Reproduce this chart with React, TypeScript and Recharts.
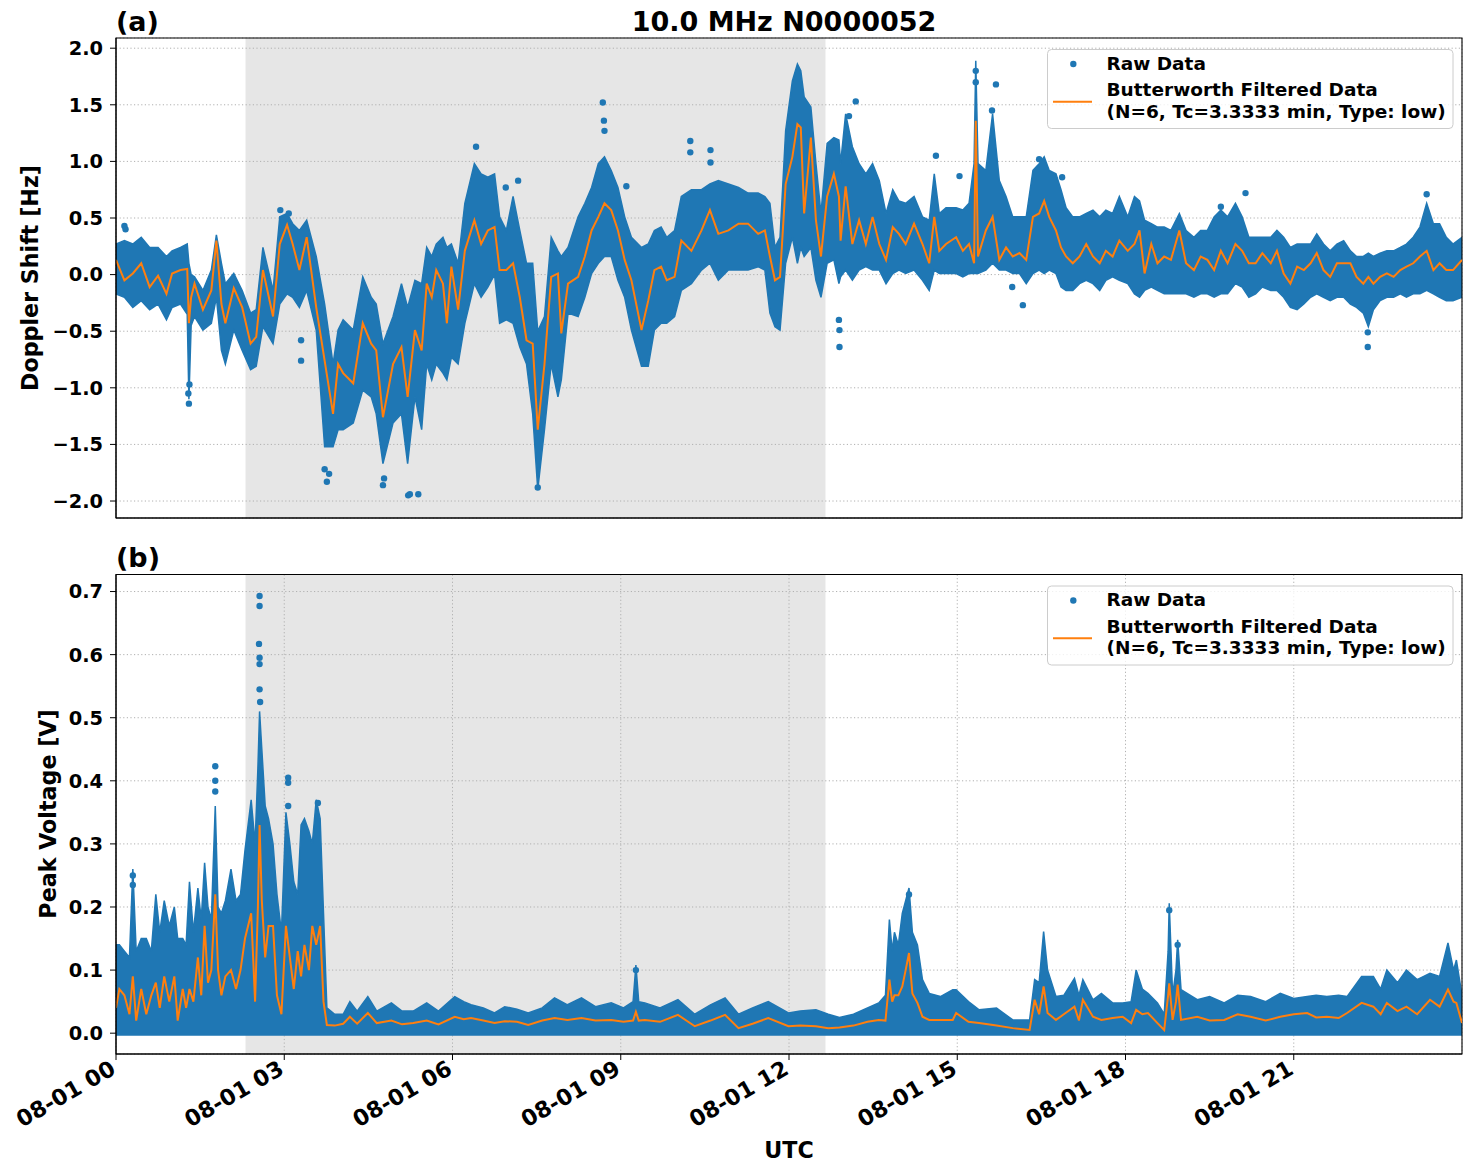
import React from 'react';
import { ComposedChart, Area, Line, Scatter, XAxis, YAxis, CartesianGrid, ReferenceArea } from 'recharts';

const BLUE = '#1f77b4';
const ORANGE = '#ff7f0e';
const FONT = '"DejaVu Sans", Verdana, sans-serif';

// x axis is hours after 08-01 00:00 UTC
const HOUR_TICKS = [0, 3, 6, 9, 12, 15, 18, 21];
const HOUR_LABELS = ['08-01 00', '08-01 03', '08-01 06', '08-01 09', '08-01 12', '08-01 15', '08-01 18', '08-01 21'];
const NIGHT_START = 2.31;
const NIGHT_END = 12.65;

const DOPPLER_TICKS = [-2, -1.5, -1, -0.5, 0, 0.5, 1, 1.5, 2];
const DOPPLER_DOMAIN = [-2.15, 2.09];
const VOLT_TICKS = [0, 0.1, 0.2, 0.3, 0.4, 0.5, 0.6, 0.7];
const VOLT_DOMAIN = [-0.033, 0.727];

// (a) Doppler shift: raw spread (low/high) and filtered trace
const DOP_T = [
  0.00, 0.15, 0.30, 0.45, 0.60, 0.75, 0.90, 1.00, 1.15, 1.27, 1.30, 1.34, 1.40, 1.55, 1.70, 1.79, 1.88, 1.95, 2.10, 2.25,
  2.40, 2.50, 2.62, 2.80, 2.92, 3.05, 3.15, 3.27, 3.40, 3.57, 3.72, 3.87, 3.96, 4.05, 4.23, 4.40, 4.55, 4.64, 4.76, 4.94,
  5.09, 5.20, 5.33, 5.45, 5.54, 5.63, 5.71, 5.83, 5.90, 5.98,
  6.10, 6.22, 6.39, 6.51, 6.63, 6.75, 6.84, 6.96, 7.08, 7.20, 7.32, 7.43, 7.52, 7.64, 7.76, 7.88, 7.94, 8.06, 8.24, 8.36,
  8.48, 8.60, 8.71, 8.83, 8.95, 9.07, 9.19, 9.37, 9.49, 9.60, 9.72, 9.82, 9.96, 10.08, 10.26, 10.44, 10.59, 10.74, 10.92, 11.10,
  11.27, 11.45, 11.57, 11.66, 11.75, 11.84, 11.94,
  12.06, 12.15, 12.21, 12.27, 12.39, 12.48, 12.57, 12.68, 12.80, 12.89, 12.92, 13.01, 13.13, 13.25, 13.37, 13.49, 13.61, 13.73, 13.85, 13.96,
  14.08, 14.23, 14.38, 14.50, 14.59, 14.68, 14.80, 14.98, 15.10, 15.21, 15.30, 15.33, 15.37, 15.51, 15.63, 15.75, 15.87, 15.99, 16.11, 16.23,
  16.35, 16.46, 16.55, 16.64, 16.76, 16.85, 16.94, 17.06, 17.18, 17.30, 17.42, 17.54, 17.65, 17.77, 17.89,
  18.04, 18.16, 18.25, 18.34, 18.46, 18.57, 18.69, 18.81, 18.96, 19.08, 19.22, 19.34, 19.46, 19.58, 19.70, 19.82, 19.96, 20.08, 20.20, 20.32,
  20.44, 20.59, 20.70, 20.82, 20.94, 21.06, 21.18, 21.30, 21.41, 21.53, 21.65, 21.77, 21.89, 22.01, 22.12, 22.24, 22.33, 22.42, 22.54, 22.66,
  22.78, 22.90, 23.01, 23.13, 23.25, 23.37, 23.49, 23.60, 23.72, 23.84, 24.00,
];
const DOP_LOW = [
  -0.17, -0.20, -0.29, -0.23, -0.31, -0.26, -0.40, -0.29, -0.26, -0.35, -1.10, -0.45, -0.37, -0.49, -0.43, -0.20, -0.67, -0.79, -0.49, -0.67,
  -0.84, -0.81, -0.46, -0.61, -0.26, -0.17, -0.20, -0.29, -0.14, -0.49, -1.52, -1.52, -1.37, -1.37, -1.31, -1.02, -1.08, -1.23, -1.67, -1.31,
  -1.23, -1.67, -1.08, -1.37, -0.79, -0.93, -0.79, -0.87, -0.93, -0.73,
  -0.79, -0.43, -0.08, -0.20, -0.11, 0.00, -0.43, -0.40, -0.43, -0.64, -0.79, -1.23, -1.90, -1.37, -0.79, -1.08, -0.93, -0.34, -0.37, -0.20,
  0.01, 0.10, 0.16, 0.16, -0.05, -0.20, -0.49, -0.81, -0.81, -0.49, -0.43, -0.43, -0.37, -0.14, -0.08, 0.04, 0.10, -0.05, 0.04, 0.04,
  0.04, 0.07, 0.04, -0.34, -0.46, -0.49, 0.10,
  0.33, 0.10, 0.24, 0.16, 0.24, -0.05, -0.20, 0.10, 0.13, -0.08, -0.02, 0.04, -0.05, 0.04, 0.07, 0.04, 0.04, -0.08, 0.01, 0.04,
  0.01, 0.04, -0.05, -0.14, 0.04, 0.01, 0.01, 0.01, -0.02, 0.01, 0.01, 0.01, 0.01, 0.04, 0.10, 0.04, 0.04, 0.01, 0.01, -0.08,
  0.01, 0.04, 0.01, 0.04, 0.01, -0.11, -0.14, -0.14, -0.08, -0.05, -0.08, -0.14, -0.05, -0.02, -0.05,
  -0.08, -0.17, -0.20, -0.14, -0.11, -0.14, -0.17, -0.17, -0.17, -0.17, -0.20, -0.17, -0.17, -0.20, -0.17, -0.17, -0.08, -0.11, -0.20, -0.17,
  -0.11, -0.14, -0.14, -0.20, -0.29, -0.31, -0.26, -0.20, -0.17, -0.20, -0.23, -0.20, -0.20, -0.26, -0.29, -0.34, -0.46, -0.31, -0.23, -0.20,
  -0.20, -0.17, -0.20, -0.17, -0.17, -0.14, -0.17, -0.20, -0.23, -0.23, -0.20,
];
const DOP_HIGH = [
  0.27, 0.30, 0.27, 0.33, 0.24, 0.24, 0.16, 0.21, 0.24, 0.27, 0.10, 0.00, -0.02, -0.14, 0.04, 0.35, 0.10, -0.08, 0.01, -0.14,
  -0.34, -0.31, 0.24, -0.14, 0.51, 0.54, 0.45, 0.39, 0.48, 0.16, -0.26, -0.79, -0.49, -0.40, -0.49, -0.02, -0.20, -0.26, -0.61, -0.37,
  -0.08, -0.29, -0.05, -0.08, 0.24, 0.16, 0.27, 0.33, 0.24, 0.27,
  0.10, 0.63, 0.98, 0.89, 0.86, 0.89, 0.51, 0.39, 0.69, 0.39, 0.10, 0.10, -0.50, -0.37, 0.33, 0.21, 0.16, 0.24, 0.51, 0.63,
  0.77, 0.98, 1.04, 0.92, 0.77, 0.51, 0.33, 0.24, 0.27, 0.39, 0.42, 0.33, 0.39, 0.69, 0.75, 0.75, 0.80, 0.83, 0.80, 0.77,
  0.72, 0.72, 0.69, 0.63, 0.24, 0.33, 1.27,
  1.71, 1.86, 1.80, 1.57, 1.48, 0.98, 0.54, 1.16, 1.21, 1.19, 0.98, 1.42, 1.13, 0.98, 0.89, 0.98, 0.83, 0.54, 0.75, 0.65,
  0.63, 0.69, 0.51, 0.48, 0.89, 0.54, 0.59, 0.59, 0.57, 0.63, 0.98, 1.89, 0.98, 0.92, 1.42, 0.83, 0.69, 0.51, 0.51, 0.51,
  0.92, 0.98, 1.04, 0.92, 0.89, 0.75, 0.59, 0.51, 0.51, 0.54, 0.57, 0.51, 0.57, 0.54, 0.69,
  0.51, 0.69, 0.65, 0.48, 0.45, 0.42, 0.42, 0.39, 0.54, 0.39, 0.33, 0.39, 0.39, 0.51, 0.57, 0.51, 0.63, 0.51, 0.33, 0.33,
  0.33, 0.33, 0.39, 0.33, 0.24, 0.27, 0.27, 0.27, 0.36, 0.27, 0.21, 0.27, 0.30, 0.21, 0.16, 0.16, 0.19, 0.16, 0.19, 0.21,
  0.21, 0.24, 0.27, 0.33, 0.42, 0.63, 0.45, 0.45, 0.33, 0.27, 0.33,
];
const DOP_FILT = [
  0.13, -0.05, 0.01, 0.10, -0.11, -0.01, -0.17, 0.01, 0.04, 0.05, -0.43, -0.20, -0.08, -0.31, -0.14, 0.30, -0.26, -0.43, -0.12, -0.29,
  -0.61, -0.55, 0.04, -0.37, 0.27, 0.44, 0.27, 0.04, 0.33, -0.29, -0.76, -1.23, -0.79, -0.87, -0.96, -0.43, -0.61, -0.67, -1.26, -0.79,
  -0.64, -1.08, -0.49, -0.67, -0.08, -0.20, 0.04, -0.08, -0.43, 0.07,
  -0.31, 0.21, 0.48, 0.27, 0.39, 0.42, 0.04, 0.04, 0.10, -0.20, -0.58, -0.61, -1.37, -0.79, -0.02, 0.01, -0.52, -0.08, -0.02, 0.16,
  0.39, 0.51, 0.63, 0.57, 0.39, 0.13, -0.05, -0.49, -0.23, 0.04, 0.07, -0.05, -0.02, 0.30, 0.21, 0.39, 0.57, 0.36, 0.39, 0.45,
  0.45, 0.36, 0.39, 0.16, -0.05, -0.02, 0.80,
  1.04, 1.33, 1.30, 0.54, 1.21, 0.48, 0.16, 0.69, 0.89, 0.69, 0.30, 0.78, 0.27, 0.48, 0.27, 0.51, 0.27, 0.13, 0.42, 0.36,
  0.27, 0.45, 0.27, 0.10, 0.51, 0.21, 0.27, 0.33, 0.21, 0.27, 0.10, 1.36, 0.16, 0.39, 0.51, 0.13, 0.24, 0.16, 0.19, 0.13,
  0.51, 0.54, 0.65, 0.51, 0.39, 0.24, 0.16, 0.10, 0.16, 0.27, 0.16, 0.10, 0.21, 0.16, 0.30,
  0.21, 0.27, 0.39, 0.01, 0.27, 0.10, 0.16, 0.13, 0.39, 0.10, 0.04, 0.16, 0.13, 0.04, 0.21, 0.10, 0.27, 0.21, 0.10, 0.10,
  0.19, 0.10, 0.21, 0.01, -0.08, 0.07, 0.04, 0.10, 0.19, 0.04, -0.02, 0.10, 0.10, 0.10, -0.02, -0.08, -0.02, -0.08, -0.02, 0.01,
  -0.02, 0.04, 0.07, 0.10, 0.16, 0.21, 0.04, 0.10, 0.04, 0.04, 0.13,
];
// isolated raw samples outside the main spread
const DOP_OUT_T = [
  0.15, 0.17, 1.30, 1.29, 1.31, 2.93, 3.08, 3.30, 3.30, 3.72, 3.76, 3.80, 4.76, 4.78, 5.21, 5.24, 5.39, 6.42, 6.95, 7.17,
  7.52, 8.68, 8.70, 8.71, 9.10, 10.24, 10.24, 10.60, 10.60, 12.89, 12.90, 12.90, 13.07, 13.19, 14.62, 15.04, 15.33, 15.33, 15.69, 15.62,
  15.98, 16.17, 16.46, 16.87, 19.70, 20.14, 22.32, 22.32, 23.37,
];
const DOP_OUT_V = [
  0.43, 0.40, -1.14, -1.05, -0.97, 0.57, 0.54, -0.58, -0.76, -1.72, -1.83, -1.76, -1.86, -1.80, -1.95, -1.94, -1.94, 1.13, 0.77, 0.83,
  -1.88, 1.52, 1.36, 1.27, 0.78, 1.18, 1.08, 1.10, 0.99, -0.40, -0.49, -0.64, 1.40, 1.53, 1.05, 0.87, 1.80, 1.70, 1.68, 1.45,
  -0.11, -0.27, 1.02, 0.86, 0.60, 0.72, -0.51, -0.64, 0.71,
];

// (b) peak voltage: raw spread top (floor near zero) and filtered trace
const VOLT_FLOOR = -0.004;
const VOLT_T = [
  0.00, 0.06, 0.15, 0.24, 0.30, 0.36, 0.45, 0.54, 0.63, 0.71, 0.78, 0.86, 0.95, 1.04, 1.10, 1.19, 1.25, 1.31, 1.38, 1.46,
  1.52, 1.58, 1.64, 1.70, 1.77, 1.82, 1.88, 1.95, 2.05, 2.14, 2.22, 2.30, 2.41, 2.48, 2.53, 2.56, 2.60, 2.66, 2.72, 2.80,
  2.87, 2.95, 3.03, 3.10, 3.17, 3.24, 3.30, 3.36, 3.44, 3.50, 3.57, 3.64, 3.70, 3.76,
  3.90, 4.05, 4.17, 4.30, 4.49, 4.65, 4.91, 5.10, 5.30, 5.54, 5.75, 6.04, 6.20, 6.33, 6.55, 6.75, 6.93, 7.15, 7.35, 7.60,
  7.82, 8.05, 8.30, 8.55, 8.83, 9.05, 9.22, 9.27, 9.32, 9.43, 9.70, 10.02, 10.32, 10.60, 10.86, 11.10, 11.35, 11.63, 11.99,
  12.20, 12.48, 12.70, 12.90, 13.15, 13.40, 13.60, 13.72, 13.79, 13.84, 13.88, 13.95, 14.02, 14.08, 14.14, 14.20, 14.29, 14.38, 14.50, 14.70,
  14.92, 14.98, 15.20, 15.39, 15.70, 15.99, 16.29, 16.38, 16.46, 16.54, 16.61, 16.76, 16.90, 17.09, 17.17, 17.24, 17.42, 17.57, 17.77, 17.95,
  18.10, 18.19, 18.30, 18.40, 18.57, 18.69, 18.76, 18.78, 18.84, 18.90, 18.93, 18.99, 19.28, 19.50, 19.76, 20.00, 20.23, 20.50, 20.76, 21.00,
  21.24, 21.40, 21.59, 21.80, 21.95, 22.21, 22.42, 22.55, 22.66, 22.85, 23.01, 23.20, 23.43, 23.60, 23.75, 23.85, 23.90, 24.00,
];
const VOLT_HIGH = [
  0.14, 0.14, 0.13, 0.12, 0.26, 0.13, 0.15, 0.15, 0.13, 0.22, 0.16, 0.21, 0.17, 0.20, 0.15, 0.15, 0.14, 0.24, 0.16, 0.23,
  0.18, 0.27, 0.20, 0.18, 0.36, 0.20, 0.19, 0.21, 0.26, 0.21, 0.22, 0.29, 0.37, 0.30, 0.42, 0.51, 0.45, 0.36, 0.34, 0.30,
  0.22, 0.16, 0.35, 0.30, 0.24, 0.22, 0.33, 0.34, 0.32, 0.30, 0.37, 0.34, 0.19, 0.04,
  0.03, 0.03, 0.05, 0.035, 0.058, 0.035, 0.048, 0.035, 0.035, 0.048, 0.035, 0.058, 0.05, 0.045, 0.04, 0.032, 0.042, 0.038, 0.032, 0.04,
  0.056, 0.045, 0.056, 0.042, 0.048, 0.04, 0.05, 0.108, 0.05, 0.048, 0.04, 0.053, 0.03, 0.045, 0.056, 0.03, 0.04, 0.05, 0.032,
  0.035, 0.037, 0.03, 0.025, 0.03, 0.04, 0.048, 0.06, 0.18, 0.13, 0.16, 0.14, 0.19, 0.21, 0.23, 0.16, 0.14, 0.085, 0.063, 0.058,
  0.069, 0.069, 0.05, 0.037, 0.04, 0.021, 0.021, 0.085, 0.08, 0.161, 0.10, 0.058, 0.06, 0.087, 0.06, 0.085, 0.053, 0.063, 0.048, 0.048,
  0.05, 0.10, 0.07, 0.063, 0.048, 0.03, 0.13, 0.206, 0.06, 0.10, 0.148, 0.069, 0.053, 0.058, 0.048, 0.06, 0.058, 0.05, 0.063, 0.055,
  0.058, 0.06, 0.058, 0.06, 0.058, 0.09, 0.09, 0.07, 0.10, 0.08, 0.10, 0.085, 0.095, 0.09, 0.143, 0.10, 0.116, 0.06,
];
const VOLT_FILT = [
  0.04, 0.07, 0.06, 0.03, 0.09, 0.02, 0.07, 0.03, 0.06, 0.08, 0.04, 0.09, 0.05, 0.09, 0.02, 0.07, 0.04, 0.07, 0.05, 0.12,
  0.06, 0.17, 0.08, 0.10, 0.22, 0.10, 0.06, 0.09, 0.10, 0.07, 0.10, 0.15, 0.19, 0.05, 0.20, 0.33, 0.21, 0.12, 0.17, 0.17,
  0.06, 0.03, 0.17, 0.12, 0.07, 0.13, 0.09, 0.14, 0.10, 0.17, 0.14, 0.17, 0.05, 0.013,
  0.012, 0.015, 0.026, 0.015, 0.032, 0.016, 0.02, 0.014, 0.016, 0.02, 0.014, 0.026, 0.022, 0.024, 0.02, 0.016, 0.019, 0.018, 0.013, 0.02,
  0.024, 0.021, 0.024, 0.02, 0.021, 0.018, 0.02, 0.034, 0.02, 0.021, 0.018, 0.029, 0.011, 0.02, 0.029, 0.008, 0.015, 0.024, 0.011,
  0.012, 0.011, 0.008, 0.009, 0.012, 0.018, 0.021, 0.02, 0.085, 0.05, 0.06, 0.06, 0.074, 0.10, 0.127, 0.063, 0.048, 0.026, 0.021, 0.021,
  0.021, 0.032, 0.018, 0.016, 0.012, 0.008, 0.005, 0.053, 0.03, 0.074, 0.032, 0.021, 0.03, 0.042, 0.02, 0.053, 0.026, 0.021, 0.024, 0.026,
  0.016, 0.037, 0.03, 0.032, 0.016, 0.005, 0.06, 0.079, 0.021, 0.05, 0.077, 0.021, 0.026, 0.02, 0.021, 0.03, 0.026, 0.02, 0.026, 0.03,
  0.032, 0.025, 0.026, 0.024, 0.032, 0.048, 0.042, 0.03, 0.048, 0.035, 0.042, 0.03, 0.053, 0.042, 0.069, 0.05, 0.048, 0.016,
];
const VOLT_OUT_T = [0.30, 0.30, 1.77, 1.77, 1.77, 2.56, 2.56, 2.55, 2.56, 2.56, 2.56, 2.57, 3.07, 3.07, 3.07, 3.60, 9.27, 14.14, 18.78, 18.93];
const VOLT_OUT_V = [0.25, 0.235, 0.423, 0.40, 0.383, 0.693, 0.677, 0.617, 0.595, 0.585, 0.545, 0.525, 0.405, 0.397, 0.36, 0.365, 0.10, 0.22, 0.195, 0.14];

const dopRows = DOP_T.map((t, i) => ({ t, band: [DOP_LOW[i], DOP_HIGH[i]], f: DOP_FILT[i] }));
const dopOut = DOP_OUT_T.map((t, i) => ({ t, v: DOP_OUT_V[i] }));
const voltRows = VOLT_T.map((t, i) => ({ t, hi: VOLT_HIGH[i], f: VOLT_FILT[i] }));
const voltOut = VOLT_OUT_T.map((t, i) => ({ t, v: VOLT_OUT_V[i] }));

const fmtTick = (v: number) => (v < 0 ? '\u2212' : '') + Math.abs(v).toFixed(1);

const tickFont = { fontSize: 19.4, fontWeight: 'bold', fill: '#000', fontFamily: FONT };

const RawDot = (props: any) => <circle cx={props.cx} cy={props.cy} r={3.2} fill={BLUE} />;

// rotated date labels, right end pinned under the tick
function DateTick(props: any) {
  const { x, y, payload } = props;
  const label = HOUR_LABELS[HOUR_TICKS.indexOf(payload.value)];
  const ax = x + 1;
  const ay = y + 11;
  return (
    <text x={ax} y={ay} textAnchor="end" transform={`rotate(-30 ${ax} ${ay})`} fontSize={22.2} fontWeight="bold" fill="#000" fontFamily={FONT}>
      {label}
    </text>
  );
}

function LegendBox({ dy }: { dy: number }) {
  return (
    <g transform={`translate(0 ${dy})`}>
      <rect x={1047.5} y={49.5} width={405.5} height={79} rx={4} fill="#fff" fillOpacity={0.8} stroke="#cccccc" />
      <circle cx={1073.3} cy={64} r={3.2} fill={BLUE} />
      <line x1={1053} y1={101.7} x2={1092} y2={101.7} stroke={ORANGE} strokeWidth={2} />
      <text x={1106.5} y={69.5} fontSize={18.5}>Raw Data</text>
      <text x={1106.5} y={96} fontSize={18.5}>Butterworth Filtered Data</text>
      <text x={1106.5} y={117.5} fontSize={18.5}>(N=6, Tc=3.3333 min, Type: low)</text>
    </g>
  );
}

export default function App() {
  return (
    <div style={{ position: 'absolute', left: 0, top: 0, width: 1471, height: 1172, background: '#fff' }}>
      <div style={{ position: 'absolute', left: 0, top: 0 }}>
        <ComposedChart width={1471} height={560} data={dopRows} margin={{ top: 38, right: 9, bottom: 32, left: 10 }}>
          <ReferenceArea x1={NIGHT_START} x2={NIGHT_END} y1={DOPPLER_DOMAIN[0]} y2={DOPPLER_DOMAIN[1]} fill="#808080" fillOpacity={0.2} stroke="none" zIndex={-200} />
          <CartesianGrid stroke="#b0b0b0" strokeDasharray="1.2 2.4" />
          <XAxis dataKey="t" type="number" domain={[0, 24]} ticks={HOUR_TICKS} interval={0} tick={false} height={10} tickSize={6} stroke="#000" allowDataOverflow />
          <YAxis type="number" domain={DOPPLER_DOMAIN} ticks={DOPPLER_TICKS} interval={0} width={106} tickSize={6} tickMargin={7} tickFormatter={fmtTick} tick={tickFont} stroke="#000" allowDataOverflow />
          <Area dataKey="band" type="linear" stroke={BLUE} strokeWidth={1.5} fill={BLUE} fillOpacity={1} dot={false} activeDot={false} isAnimationActive={false} />
          <Scatter data={dopOut} dataKey="v" fill={BLUE} shape={RawDot} isAnimationActive={false} />
          <Line dataKey="f" type="linear" stroke={ORANGE} strokeWidth={2} dot={false} activeDot={false} isAnimationActive={false} />
          <ReferenceArea x1={0} x2={24} y1={DOPPLER_DOMAIN[0]} y2={DOPPLER_DOMAIN[1]} fill="none" stroke="#000" strokeWidth={1.1} />
        </ComposedChart>
      </div>
      <div style={{ position: 'absolute', left: 0, top: 560 }}>
        <ComposedChart width={1471} height={612} data={voltRows} margin={{ top: 14.5, right: 9, bottom: 18, left: 10 }}>
          <ReferenceArea x1={NIGHT_START} x2={NIGHT_END} y1={VOLT_DOMAIN[0]} y2={VOLT_DOMAIN[1]} fill="#808080" fillOpacity={0.2} stroke="none" zIndex={-200} />
          <CartesianGrid stroke="#b0b0b0" strokeDasharray="1.2 2.4" />
          <XAxis dataKey="t" type="number" domain={[0, 24]} ticks={HOUR_TICKS} interval={0} height={100} tickSize={6} stroke="#000" tick={(p: any) => <DateTick {...p} />} allowDataOverflow />
          <YAxis type="number" domain={VOLT_DOMAIN} ticks={VOLT_TICKS} interval={0} width={106} tickSize={6} tickMargin={7} tickFormatter={fmtTick} tick={tickFont} stroke="#000" allowDataOverflow />
          <Area dataKey="hi" baseValue={VOLT_FLOOR} type="linear" stroke={BLUE} strokeWidth={1.5} fill={BLUE} fillOpacity={1} dot={false} activeDot={false} isAnimationActive={false} />
          <Scatter data={voltOut} dataKey="v" fill={BLUE} shape={RawDot} isAnimationActive={false} />
          <Line dataKey="f" type="linear" stroke={ORANGE} strokeWidth={2} dot={false} activeDot={false} isAnimationActive={false} />
          <ReferenceArea x1={0} x2={24} y1={VOLT_DOMAIN[0]} y2={VOLT_DOMAIN[1]} fill="none" stroke="#000" strokeWidth={1.1} />
        </ComposedChart>
      </div>
      <svg width={1471} height={1172} style={{ position: 'absolute', left: 0, top: 0, pointerEvents: 'none' }} fontFamily={FONT} fontWeight="bold" fill="#000">
        <text x={116} y={31} fontSize={27}>(a)</text>
        <text x={784} y={31} fontSize={27} textAnchor="middle">10.0 MHz N0000052</text>
        <text x={116} y={567} fontSize={27}>(b)</text>
        <text transform="translate(38 278) rotate(-90)" textAnchor="middle" fontSize={22.2}>Doppler Shift [Hz]</text>
        <text transform="translate(56 814) rotate(-90)" textAnchor="middle" fontSize={22.2}>Peak Voltage [V]</text>
        <text x={789} y={1158} textAnchor="middle" fontSize={22.2}>UTC</text>
        <LegendBox dy={0} />
        <LegendBox dy={536.5} />
      </svg>
    </div>
  );
}
